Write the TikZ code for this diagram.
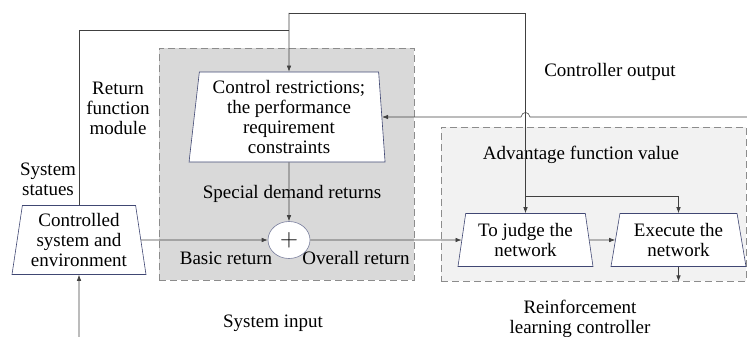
\documentclass[tikz,border=0pt]{standalone}
\usepackage{fontspec}
\setmainfont{Liberation Serif}
\usepackage{tikz}
\usetikzlibrary{arrows.meta}
\usetikzlibrary{positioning}
\usetikzlibrary{shapes.geometric}
\definecolor{boxgray}{rgb}{0.85,0.85,0.85}
\definecolor{lightgray}{rgb}{0.95,0.95,0.95}
\definecolor{dashgray}{rgb}{0.55,0.55,0.55}
\definecolor{navy}{rgb}{0.25,0.28,0.45}
\definecolor{wire}{rgb}{0.25,0.25,0.25}

\tikzset{
  block/.style={trapezium,trapezium stretches body,draw=navy,fill=white,
    line width=0.6pt,inner sep=0pt,align=center},
  area/.style={draw=dashgray,dashed,dash pattern=on 7pt off 4pt,line width=0.9pt,
    inner sep=0pt},
  label/.style={align=center,inner sep=0pt},
  wires/.style={color=wire,line width=0.6pt}
}

\begin{document}
\begin{tikzpicture}[x=1pt,y=-1pt,>={Latex[length=6pt,width=4.5pt]},
  font=\fontsize{19}{20}\selectfont]
\useasboundingbox (0,0) rectangle (747,337);
\clip (0,0) rectangle (747,337);
% dashed areas
\node[area,fill=boxgray,minimum width=255pt,minimum height=232pt] (spec) at (286.5,164) {};
\node[area,fill=lightgray,minimum width=305pt,minimum height=154pt] (rl) at (593.5,204) {};
% blocks
\node[block,trapezium left angle=82,trapezium right angle=85,
  minimum width=196pt,minimum height=90pt] (ctrl) at (289,117)
  {Control restrictions;\\ the performance\\ requirement\\ constraints};
\node[block,trapezium left angle=79,trapezium right angle=79,
  minimum width=134pt,minimum height=69pt] (plant) at (79,240)
  {Controlled\\ system and\\ environment};
\node[block,trapezium left angle=77,trapezium right angle=77,
  minimum width=135pt,minimum height=53pt] (judge) at (525.5,240)
  {To judge the\\ network};
\node[block,trapezium left angle=75,trapezium right angle=75,
  minimum width=135pt,minimum height=53pt] (exec) at (678.5,240)
  {Execute the\\ network};
\node[ellipse,draw=navy!70,fill=white,line width=0.6pt,minimum width=42pt,
  minimum height=37pt,inner sep=0pt,font=\fontsize{30}{30}\selectfont] (sum) at (289,240) {$+$};
% texts
\node[label] (retmod) at (118,108) {Return\\ function\\ module};
\node[label] (ctrlout) at (610,72) {Controller output};
\node[label] (adv) at (581,155) {Advantage function value};
\node[label] (statues) at (48,179) {System\\ statues};
\node[label] (special) at (292,194) {Special demand returns};
\node[label] (basic) at (226,258) {Basic return};
\node[label] (overall) at (356,258) {Overall return};
\node[label] (sysin) at (273,323) {System input};
\node[label] (rlc) at (580,319) {Reinforcement\\ learning controller};
% helper coordinates
\coordinate (topL) at (289,13);
\coordinate (jn) at (525.5,196);
\coordinate (fb) at (747,117);
\coordinate (inp) at (79,337);
% connectors
\draw[wires] (plant.north) |- (ctrl.north |- 0,30);
\draw[wires,->] (topL) -- (ctrl.north);
\draw[wires] (topL) -| (jn);
\draw[wires,->] (jn) -- (judge.north);
\draw[wires,->] (jn) -| (exec.north);
\draw[wires,->] (fb) -- (530,117) .. controls (529,111) and (522,111) .. (521,117)
  -- (ctrl.east);
\draw[wires,->] (plant.east) -- (sum.west);
\draw[wires,->] (ctrl.south) -- (sum.north);
\draw[wires,->] (sum.east) -- (judge.west);
\draw[wires,->] (judge.east) -- (exec.west);
\draw[wires,->] (exec.south) -- (exec.south |- rl.south);
\draw[wires,->] (inp) -- (plant.south);
\end{tikzpicture}
\end{document}
